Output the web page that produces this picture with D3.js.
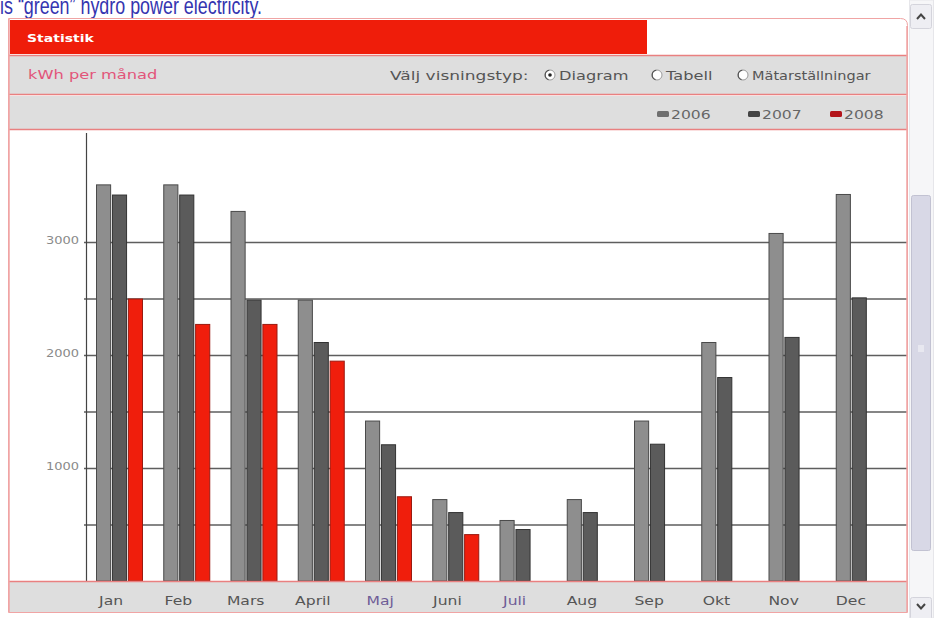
<!DOCTYPE html>
<html>
<head>
<meta charset="utf-8">
<script src="https://cdn.jsdelivr.net/npm/d3@7"></script>
<style>
  html, body { margin: 0; padding: 0; background: #ffffff; }
  svg { display: block; }
  text { font-family: "DejaVu Sans", Verdana, sans-serif; }
</style>
</head>
<body>
<svg id="chart" width="934" height="618"></svg>
<script>
// Monthly consumption, kWh
const months = ["Jan", "Feb", "Mars", "April", "Maj", "Juni", "Juli", "Aug", "Sep", "Okt", "Nov", "Dec"];
const years = ["2006", "2007", "2008"];
const kwh2006 = [3510, 3510, 3275, 2490, 1420, 725, 540, 725, 1420, 2115, 3080, 3425];
const kwh2007 = [3420, 3420, 2490, 2115, 1210, 610, 460, 610, 1215, 1805, 2160, 2510];
const kwh2008 = [2500, 2275, 2275, 1950, 750, 415, null, null, null, null, null, null];
const gridTicks = [500, 1000, 1500, 2000, 2500, 3000];
const labelTicks = [1000, 2000, 3000];

const seriesValues = { "2006": kwh2006, "2007": kwh2007, "2008": kwh2008 };
const fills = { "2006": "#8e8e8e", "2007": "#5b5b5b", "2008": "#f01e0c" };
const strokes = { "2006": "#4a4a4a", "2007": "#333333", "2008": "#9a1a10" };
const swatch = { "2006": "#6f6f6f", "2007": "#444444", "2008": "#b3141a" };

const svg = d3.select("#chart");
const SX = 1.3;           // widget text is rendered horizontally stretched
const pink = "#f0a4a4";
const rowLine = "#e98080";

// page sentence above the widget
svg.append("text")
  .attr("x", 0).attr("y", 14)
  .attr("textLength", 262).attr("lengthAdjust", "spacingAndGlyphs")
  .style("font-family", "'Liberation Sans', Arial, sans-serif")
  .style("font-size", "24px").attr("fill", "#3535b0")
  .text("is \u201cgreen\u201d hydro power electricity.");

// widget frame
svg.append("path")
  .attr("d", "M8.5,612.5 V18.5 H900.5 Q907.5,18.5 907.5,25.5 V612.5 Z")
  .attr("fill", "#ffffff").attr("stroke", pink);

// header bar
svg.append("rect").attr("x", 10).attr("y", 20).attr("width", 637).attr("height", 34).attr("fill", "#ef1d0a");
function wtext(x, y, str, size, color, opts = {}) {
  const t = svg.append("text")
    .attr("transform", `translate(${x},${y}) scale(${opts.sx || SX},1)`)
    .style("font-size", size + "px").attr("fill", color)
    .attr("text-anchor", opts.anchor || "start")
    .text(str);
  if (opts.bold) t.style("font-weight", "bold");
  return t;
}
wtext(27, 42, "Statistik", 10, "#ffffff", { bold: true, sx: 1.4 });

// options row
svg.append("rect").attr("x", 9).attr("y", 56).attr("width", 898).attr("height", 38).attr("fill", "#dedede");
svg.append("line").attr("x1", 9).attr("x2", 907).attr("y1", 55.5).attr("y2", 55.5).attr("stroke", rowLine).attr("stroke-width", 1.5);
svg.append("line").attr("x1", 9).attr("x2", 907).attr("y1", 94.5).attr("y2", 94.5).attr("stroke", rowLine).attr("stroke-width", 1.5);
wtext(28, 79, "kWh per månad", 12.5, "#e2557a");
wtext(390, 80, "Välj visningstyp:", 12, "#555555", { sx: 1.42 });
const radios = [
  { x: 550, label: "Diagram", checked: true },
  { x: 657, label: "Tabell", checked: false },
  { x: 743, label: "Mätarställningar", checked: false }
];
radios.forEach(r => {
  svg.append("circle").attr("cx", r.x).attr("cy", 75).attr("r", 5)
    .attr("fill", "#ffffff").attr("stroke", "#9a9a9a").attr("stroke-width", 1);
  svg.append("path").attr("d", d3.arc()({ innerRadius: 4.2, outerRadius: 5.4, startAngle: Math.PI * 1.1, endAngle: Math.PI * 1.95 }))
    .attr("transform", `translate(${r.x},75)`).attr("fill", "#555555");
  if (r.checked) svg.append("circle").attr("cx", r.x).attr("cy", 75).attr("r", 1.8).attr("fill", "#222222");
  wtext(r.x + 9, 80, r.label, 12, "#555555", { sx: r.label === "Mätarställningar" ? 1.21 : 1.35 });
});

// legend row
svg.append("rect").attr("x", 9).attr("y", 96).attr("width", 898).attr("height", 33).attr("fill", "#dedede");
svg.append("line").attr("x1", 9).attr("x2", 907).attr("y1", 129.5).attr("y2", 129.5).attr("stroke", rowLine).attr("stroke-width", 1.5);
const legendX = { "2006": 657, "2007": 748, "2008": 830 };
years.forEach(yr => {
  svg.append("rect").attr("x", legendX[yr]).attr("y", 111).attr("width", 12).attr("height", 6).attr("rx", 1.5)
    .attr("fill", swatch[yr]);
  wtext(legendX[yr] + 14, 119, yr, 12, "#666666", { sx: 1.3 });
});

// plot area
const plot = { left: 86, right: 907, top: 131, bottom: 581 };
const x0 = d3.scaleBand().domain(months).range([plot.left, plot.left + 12 * 67.25]);
const x1 = d3.scaleBand().domain(years).range([10, 57]).paddingInner(0.05);
const y = d3.scaleLinear().domain([0, 4000]).range([plot.bottom, 129]);

// gridlines and value labels
const yAxis = svg.append("g").attr("transform", `translate(${plot.left},0)`)
  .call(d3.axisLeft(y).tickValues(gridTicks).tickSize(-(plot.right - plot.left)).tickPadding(7)
    .tickFormat(d => labelTicks.includes(d) ? d : ""));
yAxis.select(".domain").remove();
yAxis.selectAll(".tick line").attr("x1", -2).attr("stroke", "#5e5e5e").attr("stroke-width", 1.6);
yAxis.selectAll(".tick text")
  .style("font-size", "10px").attr("fill", "#8a8a8a")
  .attr("transform", function () { return `translate(${d3.select(this).attr("x")},-2) scale(${SX},1)`; })
  .attr("x", 0);

// bars
const groups = svg.append("g").selectAll("g").data(months).join("g")
  .attr("transform", d => `translate(${x0(d)},0)`);
groups.selectAll("rect")
  .data((m, i) => years.map(yr => ({ yr, v: seriesValues[yr][i] })).filter(d => d.v != null))
  .join("rect")
  .attr("x", d => x1(d.yr) + 0.5)
  .attr("y", d => y(d.v) + 0.5)
  .attr("width", x1.bandwidth() - 1)
  .attr("height", d => y(0) - y(d.v) - 0.5)
  .attr("fill", d => fills[d.yr])
  .attr("stroke", d => strokes[d.yr]).attr("stroke-width", 1);

// vertical value axis line
svg.append("line").attr("x1", plot.left + 0.5).attr("x2", plot.left + 0.5)
  .attr("y1", plot.top + 2).attr("y2", plot.bottom).attr("stroke", "#444444").attr("stroke-width", 1.2);

// month axis band
svg.append("rect").attr("x", 9).attr("y", 582).attr("width", 898).attr("height", 30).attr("fill", "#dedede");
svg.append("line").attr("x1", 9).attr("x2", 907).attr("y1", 581.5).attr("y2", 581.5).attr("stroke", rowLine).attr("stroke-width", 1.5);
const labelShift = (10 + x1.bandwidth()) - x0.bandwidth() / 2;
const xAxis = svg.append("g").attr("transform", `translate(${labelShift},582)`)
  .call(d3.axisBottom(x0).tickSize(0).tickPadding(0));
xAxis.select(".domain").remove();
xAxis.selectAll(".tick text")
  .attr("y", 0).attr("dy", 0)
  .attr("transform", `translate(0,23) scale(${SX},1)`)
  .style("font-size", "12px")
  .attr("fill", d => (d === "Maj" || d === "Juli") ? "#6e5c96" : "#555555");

// side lines of the frame over the rows
svg.append("line").attr("x1", 9).attr("x2", 9).attr("y1", 19).attr("y2", 612).attr("stroke", pink).attr("stroke-width", 1.5);
svg.append("line").attr("x1", 907).attr("x2", 907).attr("y1", 26).attr("y2", 612).attr("stroke", pink).attr("stroke-width", 1.5);

// scrollbar
const sb = svg.append("g");
sb.append("rect").attr("x", 909.5).attr("y", 0).attr("width", 24).attr("height", 618).attr("fill", "#f6f6f8").attr("stroke", "#e6e6ea");
sb.append("rect").attr("x", 910.5).attr("y", 4.5).attr("width", 21).attr("height", 24).attr("rx", 2).attr("fill", "#eeeef3").attr("stroke", "#d4d4dc");
sb.append("path").attr("d", "M917,19 L921,14.5 L925,19").attr("fill", "none").attr("stroke", "#444444").attr("stroke-width", 2);
sb.append("rect").attr("x", 911.5).attr("y", 195.5).attr("width", 19).attr("height", 355).attr("rx", 2).attr("fill", "#d8d8e6").attr("stroke", "#c2c2d2");
sb.append("rect").attr("x", 918).attr("y", 345).attr("width", 6).attr("height", 7).attr("fill", "#e8e8f0");
sb.append("rect").attr("x", 910.5).attr("y", 597.5).attr("width", 21).attr("height", 22).attr("rx", 2).attr("fill", "#eeeef3").attr("stroke", "#d4d4dc");
sb.append("path").attr("d", "M917,604 L921,608.5 L925,604").attr("fill", "none").attr("stroke", "#444444").attr("stroke-width", 2);
</script>
</body>
</html>
